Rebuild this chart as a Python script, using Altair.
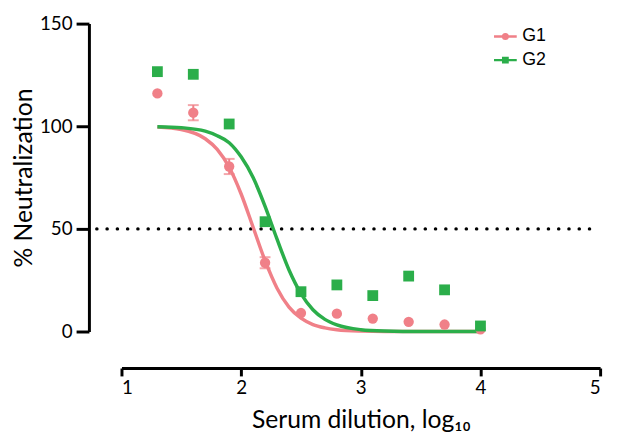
import altair as alt
import pandas as pd

# Measured points (log10 serum dilution)
x_vals = [1.3, 1.6, 1.9, 2.2, 2.5, 2.8, 3.1, 3.4, 3.7, 4.0]
g1_vals = [116, 106.6, 80.4, 33.5, 9, 8.7, 6.3, 4.7, 3.4, 1.1]
g1_err = [0, 3.7, 3.7, 2.7, 0, 0, 0, 0, 0, 0]
g2_vals = [126.6, 125.3, 101.1, 53.5, 19.4, 22.7, 17.5, 27, 20.3, 2.7]

# Fitted curves
curve_x = [1.3, 1.5, 1.7, 1.8, 1.9, 2.0, 2.1, 2.2, 2.3, 2.4, 2.5, 2.6, 2.7, 2.8, 3.0, 3.2, 3.5, 4.0]
g1_curve = [99.6, 98.4, 93.9, 88.7, 80, 67, 50.8, 34.5, 21.1, 11.9, 6.5, 3.4, 1.8, 0.9, 0.2, 0, 0, 0]
g2_curve = [99.8, 99.3, 97.6, 95.4, 92, 85.1, 75, 61, 45, 30, 18.5, 10.6, 5.9, 3.2, 0.9, 0.25, 0, 0]

series = ["G1", "G2"]
colors = ["#F08088", "#2BAE4A"]
threshold = 50
Y_TITLE = "% Neutralization"

pts = pd.DataFrame(
    {"x": x_vals * 2, "y": g1_vals + g2_vals, "series": ["G1"] * len(x_vals) + ["G2"] * len(x_vals)}
)
err = pd.DataFrame({"x": x_vals, "y": g1_vals, "e": g1_err})
err = err[err["e"] > 0].copy()
err["lo"] = err["y"] - err["e"]
err["hi"] = err["y"] + err["e"]
curves = pd.DataFrame(
    {"x": curve_x * 2, "y": g1_curve + g2_curve, "series": ["G1"] * len(curve_x) + ["G2"] * len(curve_x)}
)

AXIS_FONT = "Lato"
xscale = alt.Scale(domain=[1, 5], nice=False, zero=False)
yscale = alt.Scale(domain=[0, 150], nice=False)
cscale = alt.Scale(domain=series, range=colors)

xenc = alt.X(
    "x:Q",
    scale=xscale,
    axis=alt.Axis(
        title="Serum dilution, log₁₀",
        values=[1, 2, 3, 4, 5],
        format="d",
        offset=37,
        tickSize=8,
        tickWidth=3,
        domainWidth=3,
        domainColor="black",
        tickColor="black",
        labelFontSize=19,
        labelFont=AXIS_FONT,
        labelColor="black",
        labelPadding=3,
        titleFont=AXIS_FONT,
        titleFontSize=25,
        titleFontWeight="normal",
        titleColor="black",
        titlePadding=10,
        grid=False,
    ),
)
yenc = alt.Y(
    "y:Q",
    scale=yscale,
    axis=alt.Axis(
        title=Y_TITLE,
        values=[0, 50, 100, 150],
        offset=33,
        tickSize=13,
        tickWidth=3,
        domainWidth=3,
        domainColor="black",
        tickColor="black",
        labelFontSize=19,
        labelFont=AXIS_FONT,
        labelColor="black",
        labelPadding=4,
        titleFont=AXIS_FONT,
        titleFontSize=25,
        titleFontWeight="normal",
        titleColor="black",
        titlePadding=3,
        grid=False,
    ),
)

thr = alt.Chart(pd.DataFrame({"t": [threshold]})).mark_rule(
    color="black", strokeWidth=3.5, strokeDash=[0.1, 10.3], strokeCap="round"
).encode(x=alt.value(-25), x2=alt.value(476), y=alt.Y("t:Q", title=Y_TITLE))

line_layers = [
    alt.Chart(curves)
    .transform_filter(f"datum.series == '{s}'")
    .mark_line(strokeWidth=3.5, interpolate="monotone", color=c)
    .encode(x=xenc, y=yenc)
    for s, c in zip(series, colors)
]

g1_pts = alt.Chart(pts).transform_filter("datum.series == 'G1'").mark_circle(
    size=110, opacity=1, color=colors[0]
).encode(x="x:Q", y="y:Q")
g2_pts = alt.Chart(pts).transform_filter("datum.series == 'G2'").mark_square(
    size=120, opacity=1, color=colors[1]
).encode(x="x:Q", y="y:Q")

errbars = alt.Chart(err).mark_errorbar(ticks={"size": 11, "thickness": 2}, thickness=2, color=colors[0]).encode(
    x="x:Q", y=alt.Y("lo:Q", title=Y_TITLE), y2="hi:Q"
)

# legend glyphs: a short line with a small solid marker (drawn with strokes only)
circle_path = (
    "M-1,0H1"
    "M0.2,0A0.2,0.2 0 1,1 -0.2,0A0.2,0.2 0 1,1 0.2,0"
    "M0.08,0A0.08,0.08 0 1,1 -0.08,0A0.08,0.08 0 1,1 0.08,0"
)
square_path = "M-1,0H1M-0.19,-0.19H0.19V0.19H-0.19Z M-0.07,-0.07H0.07V0.07H-0.07Z"

# layer with no rows that only carries the legend
legend_layer = alt.Chart(pts).transform_filter("false").mark_point(filled=False, opacity=1).encode(
    x="x:Q",
    y=alt.Y("y:Q", title=Y_TITLE),
    color=alt.Color("series:N", scale=cscale, legend=alt.Legend(title=None)),
    shape=alt.Shape(
        "series:N",
        scale=alt.Scale(domain=series, range=[circle_path, square_path]),
        legend=alt.Legend(title=None),
    ),
)

chart = (
    alt.layer(legend_layer, thr, *line_layers, errbars, g1_pts, g2_pts)
    .properties(
        width=485,
        height=312,
        padding={"left": 115, "top": 13, "right": 9, "bottom": 99},
        autosize=alt.AutoSizeParams(type="none"),
        background="white",
    )
    .configure_view(stroke=None)
    .configure_legend(
        orient="none",
        legendX=376,
        legendY=0,
        symbolSize=530,
        symbolStrokeWidth=2.5,
        symbolOpacity=1,
        symbolFillColor="transparent",
        labelFont="Liberation Sans",
        labelFontSize=18,
        labelColor="black",
        labelOffset=4,
        rowPadding=2,
    )
)

chart.save("out.html", embed_options={"renderer": "svg", "actions": False})
